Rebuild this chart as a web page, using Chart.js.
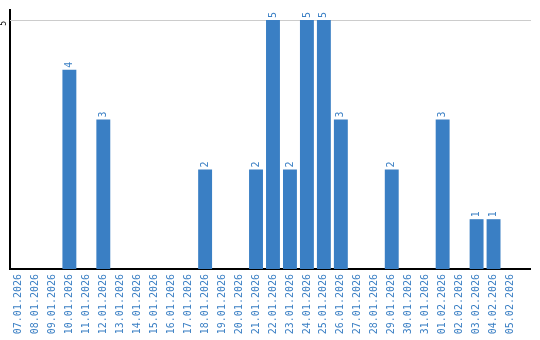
<!DOCTYPE html>
<html><head><meta charset="utf-8">
<script src="https://cdn.jsdelivr.net/npm/chart.js@4/dist/chart.umd.min.js"></script>
<style>html,body{margin:0;padding:0;background:#fff}#w{width:540px;height:340px}</style>
</head><body><div id="w"><canvas id="c"></canvas></div>
<script>
const categories = ["07.01.2026","08.01.2026","09.01.2026","10.01.2026","11.01.2026","12.01.2026","13.01.2026","14.01.2026","15.01.2026","16.01.2026","17.01.2026","18.01.2026","19.01.2026","20.01.2026","21.01.2026","22.01.2026","23.01.2026","24.01.2026","25.01.2026","26.01.2026","27.01.2026","28.01.2026","29.01.2026","30.01.2026","31.01.2026","01.02.2026","02.02.2026","03.02.2026","04.02.2026","05.02.2026"];
const counts = [0,0,0,4,0,3,0,0,0,0,0,2,0,0,2,5,2,5,5,3,0,0,2,0,0,3,0,1,1,0];
const yTicks = [5];
const yMax = 5.2;

const BLUE = '#3a7fc4';
const FONT = '"DejaVu Sans Mono", monospace';

const extras = {
  id: 'extras',
  beforeDatasetsDraw(chart) {
    const ctx = chart.ctx;
    const ca = chart.chartArea;
    const ys = chart.scales.y;
    ctx.save();
    ctx.strokeStyle = '#cccccc';
    ctx.lineWidth = 1;
    yTicks.forEach(t => {
      const py = Math.round(ys.getPixelForValue(t)) + 0.5;
      ctx.beginPath();
      ctx.moveTo(ca.left, py);
      ctx.lineTo(chart.width - 9, py);
      ctx.stroke();
    });
    ctx.restore();
  },
  afterDatasetsDraw(chart) {
    const ctx = chart.ctx;
    const meta = chart.getDatasetMeta(0);
    const ca = chart.chartArea;
    const ys = chart.scales.y;
    ctx.save();
    // extend x axis baseline to the right edge
    ctx.strokeStyle = '#000';
    ctx.lineWidth = 2;
    ctx.beginPath();
    ctx.moveTo(ca.right - 1, ca.bottom);
    ctx.lineTo(chart.width - 9, ca.bottom);
    ctx.stroke();
    // value labels
    ctx.fillStyle = BLUE;
    ctx.font = '10px ' + FONT;
    ctx.textAlign = 'left';
    ctx.textBaseline = 'middle';
    meta.data.forEach((bar, i) => {
      const v = counts[i];
      if (!v) return;
      ctx.save();
      ctx.translate(bar.x, bar.y - 2);
      ctx.rotate(-Math.PI / 2);
      ctx.fillText(String(v), 0, 0);
      ctx.restore();
    });
    // y tick labels rotated
    ctx.fillStyle = '#000';
    ctx.font = '8px ' + FONT;
    ctx.textAlign = 'right';
    ctx.textBaseline = 'middle';
    yTicks.forEach(t => {
      ctx.save();
      ctx.translate(4, ys.getPixelForValue(t) + 1);
      ctx.rotate(-Math.PI / 2);
      ctx.fillText(String(t), 0, 0);
      ctx.restore();
    });
    ctx.restore();
  }
};

new Chart(document.getElementById('c'), {
  type: 'bar',
  data: { labels: categories, datasets: [{ data: counts, backgroundColor: BLUE, barPercentage: 0.82, categoryPercentage: 1 }] },
  options: {
    responsive: true, maintainAspectRatio: false, animation: false,
    layout: { padding: { top: 10, right: 21, left: 0, bottom: 0 } },
    plugins: { legend: { display: false }, tooltip: { enabled: false } },
    scales: {
      x: {
        grid: { display: false, drawTicks: false },
        border: { color: '#000', width: 2 },
        ticks: { color: BLUE, font: { family: FONT, size: 10 }, minRotation: 90, maxRotation: 90, padding: 5, autoSkip: false },
        afterFit(s) { s.height = 71; }
      },
      y: {
        min: 0, max: yMax,
        afterBuildTicks(s) { s.ticks = yTicks.map(v => ({ value: v })); },
        grid: { display: false, drawTicks: false },
        border: { display: true, color: '#000', width: 2 },
        ticks: { display: false },
        afterFit(s) { s.width = 10; }
      }
    }
  },
  plugins: [extras]
});
</script></body></html>
